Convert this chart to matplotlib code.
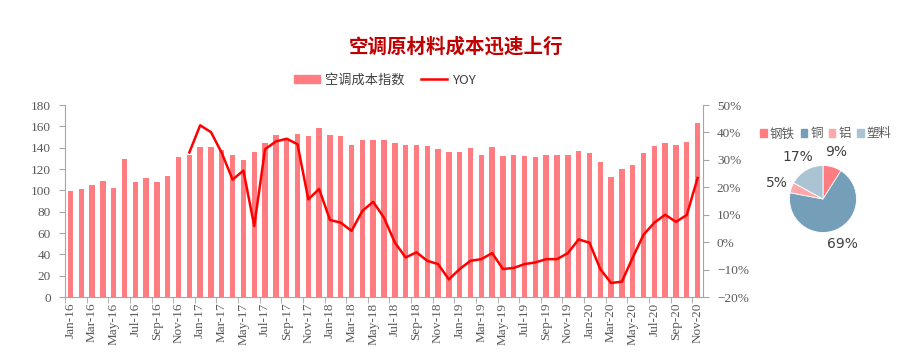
import matplotlib.pyplot as plt
import numpy as np
from matplotlib.patches import Patch
from matplotlib.lines import Line2D
from matplotlib.ticker import FuncFormatter

plt.rcParams['font.family'] = ['Liberation Serif', 'Noto Sans CJK SC', 'DejaVu Sans']

# data
months = ['Jan', 'Feb', 'Mar', 'Apr', 'May', 'Jun', 'Jul', 'Aug', 'Sep', 'Oct', 'Nov', 'Dec']
labels = ['%s-%d' % (m, y) for y in range(16, 21) for m in months][:59]

cost_index = [99, 101, 105, 108.6, 102, 129, 107.7, 111.5, 108, 113, 131, 133,
              140.6, 141, 137.4, 132.7, 128.7, 136, 144, 151.8, 149, 153, 151, 158.4,
              151.8, 151, 142.8, 147, 147, 147, 144.3, 142.5, 142.5, 141.8, 138.4, 135.9,
              135.6, 139.6, 133, 140.6, 132, 132.7, 132, 131.2, 133.4, 132.7, 132.7, 136.8,
              134.6, 126.5, 112.4, 119.9, 124, 135.3, 141.2, 144.3, 142.5, 145.6, 163.1]

yoy = [np.nan] * 11 + [
    32.7, 42.6, 40.1, 32.5, 22.8, 26.1, 5.9, 33.9, 36.7, 37.7, 35.7, 15.6,
    19.4, 8.1, 7.1, 4.1, 11.4, 14.7, 8.9, -0.1, -5.6, -3.7, -6.8, -8.0,
    -13.6, -9.8, -6.8, -6.2, -4.0, -9.8, -9.4, -8.0, -7.4, -6.2, -6.2, -4.0,
    1.0, -0.2, -9.8, -14.9, -14.4, -5.6, 2.7, 7.1, 10.0, 7.4, 9.9, 23.4]

pie_names = ['钢铁', '铜', '铝', '塑料']
pie_shares = [9, 69, 5, 17]
pie_colors = ['#FF7C80', '#759EB8', '#FFA8AB', '#ABC4D3']

bar_color = '#FF7C80'
line_color = '#FF0000'
axis_gray = '#A6A6A6'
text_gray = '#595959'

fig = plt.figure(figsize=(9.01, 3.56), dpi=100)
W, H = 901.0, 356.0

# main chart
ax = fig.add_axes([65 / W, 1 - 297 / H, 638 / W, 192 / H])
x = np.arange(len(cost_index))
ax.bar(x, cost_index, width=0.5, color=bar_color, zorder=2)
ax.set_xlim(-0.5, len(cost_index) - 0.5)
ax.set_ylim(0, 180)
ax.set_yticks(range(0, 181, 20))

ax.set_xticks(x[::2])
ax.set_xticklabels(labels[::2], rotation=90, fontsize=9.5, color=text_gray)
ax.set_xticks(np.arange(-0.5, len(cost_index), 2), minor=True)
ax.tick_params(axis='x', which='major', length=0, pad=4)
ax.tick_params(axis='x', which='minor', length=4, color=axis_gray, direction='out')
ax.tick_params(axis='y', length=4, color=axis_gray, labelsize=9.5, labelcolor=text_gray, pad=6)

for side in ['top', 'right']:
    ax.spines[side].set_visible(False)
for side in ['left', 'bottom']:
    ax.spines[side].set_color(axis_gray)

ax2 = ax.twinx()
ax2.plot(x, yoy, color=line_color, linewidth=1.8, zorder=3)
ax2.set_ylim(-20, 50)
ax2.set_yticks(range(-20, 51, 10))
ax2.yaxis.set_major_formatter(FuncFormatter(lambda v, p: '%d%%' % v if v >= 0 else '\u2212%d%%' % -v))
ax2.tick_params(axis='y', length=4, color=axis_gray, labelsize=9.5, labelcolor=text_gray, pad=6)
for side in ['top', 'left', 'bottom']:
    ax2.spines[side].set_visible(False)
ax2.spines['right'].set_color(axis_gray)

# title and legend
fig.text(456 / W, 1 - 47 / H, '空调原材料成本迅速上行', ha='center', va='center',
         fontsize=14, fontweight='bold', color='#C00000', family=['Noto Sans CJK SC'])

handles = [Patch(color=bar_color), Line2D([], [], color=line_color, linewidth=1.8)]
fig.legend(handles, ['空调成本指数', 'YOY'], loc='center', bbox_to_anchor=(385 / W, 1 - 80 / H),
           ncol=2, frameon=False, handlelength=2.0, handleheight=0.6,
           columnspacing=1.2, handletextpad=0.4, labelcolor='#404040',
           prop={'family': ['Noto Sans CJK SC', 'DejaVu Sans'], 'size': 9.5})

# pie chart
r = 33.5
pax = fig.add_axes([(823 - r) / W, 1 - (199 + r) / H, 2 * r / W, 2 * r / H])
wedges, _, autotexts = pax.pie(pie_shares, colors=pie_colors, startangle=90, counterclock=False,
                               autopct='%d%%', pctdistance=1.45,
                               wedgeprops={'edgecolor': 'white', 'linewidth': 0.6},
                               textprops={'fontsize': 10, 'color': '#404040',
                                          'family': ['DejaVu Sans']})
pax.set_xlim(-1, 1)
pax.set_ylim(-1, 1)
pax.set_aspect('equal')

pie_handles = [Patch(color=c) for c in pie_colors]
fig.legend(pie_handles, pie_names, loc='center', bbox_to_anchor=(826 / W, 1 - 134 / H),
           ncol=4, frameon=False, handlelength=0.5, handleheight=0.5,
           columnspacing=0.5, handletextpad=0.25, borderpad=0.1, labelcolor=text_gray,
           prop={'family': ['Noto Sans CJK SC'], 'size': 9})

fig.savefig('out.png', dpi=100, facecolor='white')
